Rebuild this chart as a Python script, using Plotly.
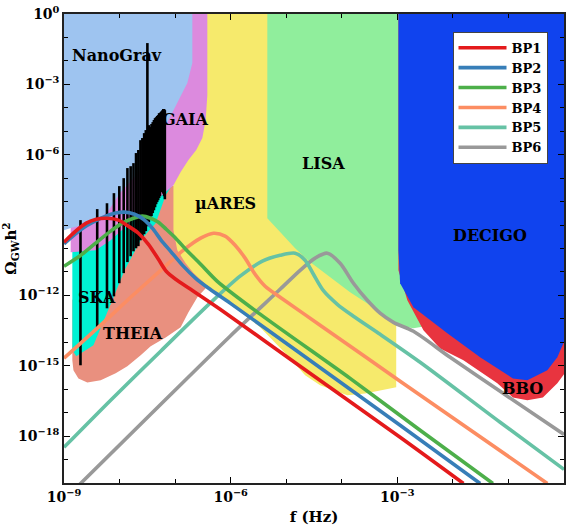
import numpy as np
import plotly.graph_objects as go

# ---------------------------------------------------------------------------
# Gravitational-wave spectra of the benchmark points
# (log10 of frequency in Hz, log10 of Omega_GW h^2)
# ---------------------------------------------------------------------------
bp_names = ["BP1", "BP2", "BP3", "BP4", "BP5", "BP6"]
bp_colors = ["#e41a1c", "#377eb8", "#4daf4a", "#fc8d62", "#66c2a5", "#999999"]

bp1_logf = [-9.00, -8.79, -8.60, -8.42, -8.22, -8.02, -7.84, -7.66, -7.48, -7.30,
            -7.16, -6.99, -6.72, -6.19, -4.75, -2.95, -1.81]
bp1_logomega = [-9.73, -9.26, -8.92, -8.75, -8.71, -8.79, -9.05, -9.35, -9.82, -10.46,
                -10.97, -11.31, -11.74, -12.59, -15.02, -18.05, -20.02]

bp2_logf = [-9.00, -8.70, -8.47, -8.25, -8.07, -7.91, -7.73, -7.57, -7.41, -7.25,
            -7.08, -6.87, -6.63, -6.37, -6.01, -4.75, -2.95, -1.51]
bp2_logomega = [-9.80, -9.20, -8.87, -8.62, -8.49, -8.45, -8.54, -8.75, -9.13, -9.65,
                -10.12, -10.71, -11.27, -11.74, -12.33, -14.47, -17.54, -20.02]

bp3_logf = [-9.00, -8.70, -8.43, -8.16, -7.95, -7.75, -7.59, -7.44, -7.30, -7.16,
            -6.99, -6.81, -6.54, -6.24, -5.47, -3.85, -2.59, -1.28]
bp3_logomega = [-10.76, -10.29, -9.77, -9.26, -8.92, -8.71, -8.62, -8.71, -8.88, -9.18,
                -9.56, -10.03, -10.67, -11.40, -12.80, -15.54, -17.75, -20.02]

bp4_logf = [-9.00, -8.34, -7.80, -7.26, -6.85, -6.54, -6.31, -6.10, -5.92, -5.74,
            -5.56, -5.38, -5.11, -4.39, -2.95, -0.30]
bp4_logomega = [-14.68, -13.27, -12.08, -10.93, -10.07, -9.56, -9.35, -9.47, -9.86, -10.41,
                -11.10, -11.61, -12.08, -13.27, -15.66, -20.02]

bp5_logf = [-9.00, -8.16, -7.26, -6.37, -5.83, -5.43, -5.11, -4.84, -4.66, -4.51,
            -4.33, -4.08, -3.79, -3.31, -2.59, -1.15, 0.00]
bp5_logomega = [-18.48, -16.47, -14.38, -12.33, -11.18, -10.54, -10.29, -10.20, -10.50, -11.10,
                -11.80, -12.38, -12.89, -13.66, -14.85, -17.41, -19.42]

bp6_logf = [-8.88, -7.44, -6.01, -5.11, -4.75, -4.48, -4.26, -4.03, -3.79, -3.54,
            -3.31, -3.07, -2.71, -2.05, -1.15, 0.00]
bp6_logomega = [-20.44, -17.07, -13.74, -11.74, -10.93, -10.41, -10.20, -10.63, -11.48, -12.21,
                -12.76, -13.15, -13.53, -14.64, -16.09, -17.93]

bp_logf = [bp1_logf, bp2_logf, bp3_logf, bp4_logf, bp5_logf, bp6_logf]
bp_logomega = [bp1_logomega, bp2_logomega, bp3_logomega, bp4_logomega, bp5_logomega, bp6_logomega]

# ---------------------------------------------------------------------------
# Pulsar-timing sensitivity: value range at each harmonic n / T_obs
# ---------------------------------------------------------------------------
pta_f_base = 1.98e-9          # 1 / T_obs  (T_obs ~ 16 yr)
pta_harmonic = list(range(1, 34))
pta_log_low = [-14.98, -13.44, -12.55, -12.04, -11.48, -11.05, -10.58, -10.33, -10.12, -9.99,
               -9.90, -9.65, -9.52, -9.39, -9.26, -9.05, -8.88, -8.75, -8.62, -8.49,
               -8.37, -8.24, -8.11, -8.02, -7.94, -7.85, -7.77, -7.60, -7.55, -7.58,
               -7.66, -7.77, -7.90]
pta_log_high = [-8.79, -8.32, -8.07, -7.64, -7.34, -7.00, -6.57, -6.49, -6.36, -5.93,
                -5.80, -5.38, -5.29, -5.08, -4.95, -1.24, -4.74, -4.82, -4.69, -4.61,
                -4.52, -4.44, -4.40, -4.35, -4.31, -4.23, -4.23, -4.18, -4.14, -4.10,
                -4.05, -4.05, -4.10]

# ---------------------------------------------------------------------------
# Experimental sensitivity regions (outline in log10 f, log10 Omega h^2)
# ---------------------------------------------------------------------------
theia_logf = [-8.85, -8.85, -8.83, -8.74, -8.58, -8.34, -8.07, -7.86, -7.62, -7.44,
              -7.17, -6.90, -6.76, -6.60, -6.45, -6.28, -6.28, -7.01, -7.26, -8.34]
theia_logomega = [-12.21, -14.77, -15.19, -15.54, -15.71, -15.62, -15.32, -15.02, -14.55, -14.17,
                  -13.79, -13.36, -12.72, -12.08, -11.69, -11.35, -7.94, -7.30, -7.51, -10.07]

mares_logf = [-7.03, -7.03, -6.96, -6.81, -6.67, -6.37, -6.01, -5.47, -4.93, -4.66,
              -4.39, -3.90, -3.58, -3.31, -3.02, -3.02]
mares_logomega = [0.05, -9.22, -10.07, -10.63, -11.05, -11.69, -12.33, -13.36, -14.68, -15.41,
                  -15.83, -16.26, -16.18, -16.05, -15.92, 0.05]

lisa_logf = [-5.34, -5.34, -5.11, -4.84, -4.57, -4.21, -3.85, -3.49, -3.02, -2.71,
             -2.50, -2.23, -1.87, -1.51]
lisa_logomega = [0.05, -8.71, -9.30, -9.99, -10.58, -11.22, -11.87, -12.42, -13.27, -13.40,
                 -13.32, -12.21, -10.07, 0.05]

ska_logf = [-8.85, -8.85, -8.78, -8.47, -8.13, -7.91, -7.62, -7.35, -7.17, -7.03, -6.98, -7.44]
ska_logomega = [-9.65, -14.34, -14.60, -14.13, -12.21, -10.93, -9.65, -8.92, -7.73, -7.21, -6.66, -6.66]

gaia_logf = [-8.88, -8.88, -8.43, -8.16, -7.80, -7.44, -7.17, -7.03, -6.90, -6.76,
             -6.62, -6.51, -6.45, -6.42, -6.42]
gaia_logomega = [0.05, -10.16, -10.07, -9.65, -8.88, -8.15, -7.60, -7.30, -6.74, -6.23,
                 -5.80, -5.29, -4.52, -3.46, 0.05]

nanograv_logf = [-9.05, -9.05, -8.88, -8.47, -8.22, -7.98, -7.53, -7.17, -7.03, -6.78, -6.69, -6.69]
nanograv_logomega = [0.05, -9.26, -9.13, -8.88, -8.45, -7.60, -6.44, -4.74, -4.10, -2.94, -2.09, 0.05]

bbo_logf = [-2.98, -2.98, -2.82, -2.53, -2.23, -1.81, -1.20, -0.92, -0.66, -0.38, -0.12, 0.05, 0.05]
bbo_logomega = [0.05, -10.93, -12.21, -13.49, -14.26, -14.77, -15.75, -16.35, -16.47, -16.35,
                -15.75, -15.20, 0.05]

decigo_logf = [-2.98, -2.98, -2.95, -2.71, -2.10, -1.51, -0.92, -0.66, -0.30, -0.12, 0.05, 0.05]
decigo_logomega = [0.05, -10.07, -11.48, -12.51, -13.61, -14.64, -15.54, -15.62, -15.19, -14.64,
                   -13.70, 0.05]

# drawing order: lowest layer first
regions = [
    (theia_logf, theia_logomega, "#e9907f"),
    (mares_logf, mares_logomega, "#f6ea6c"),
    (lisa_logf, lisa_logomega, "#90ee9c"),
    (ska_logf, ska_logomega, "#00f2d4"),
    (gaia_logf, gaia_logomega, "#dc8ade"),
    (nanograv_logf, nanograv_logomega, "#9ec4f0"),
    (bbo_logf, bbo_logomega, "#e8343f"),
    (decigo_logf, decigo_logomega, "#1043ee"),
]

# region labels: (text, log10 f, log10 Omega)
region_labels = [
    ("NanoGrav", -8.04, -1.79),
    ("GAIA", -6.81, -4.52),
    ("µARES", -6.10, -8.07),
    ("LISA", -4.33, -6.36),
    ("DECIGO", -1.33, -9.43),
    ("SKA", -8.40, -12.08),
    ("THEIA", -7.75, -13.62),
    ("BBO", -0.75, -15.96),
]

SERIF = "DejaVu Serif"

fig = go.Figure()

for lf, lo, col in regions:
    fig.add_trace(go.Scatter(
        x=10 ** np.array(lf), y=10 ** np.array(lo),
        mode="lines", fill="toself", fillcolor=col,
        line=dict(width=0, color=col),
        hoverinfo="skip", showlegend=False,
    ))

# pulsar-timing curve: one vertical stroke per harmonic
pta_x, pta_y = [], []
for n, lo, hi in zip(pta_harmonic, pta_log_low, pta_log_high):
    f = n * pta_f_base
    pta_x += [f, f, None]
    pta_y += [10 ** lo, 10 ** hi, None]
fig.add_trace(go.Scatter(
    x=pta_x, y=pta_y, mode="lines",
    line=dict(color="black", width=2.6),
    hoverinfo="skip", showlegend=False,
))

# benchmark spectra, BP1 drawn last (on top)
for i in reversed(range(len(bp_names))):
    fig.add_trace(go.Scatter(
        x=10 ** np.array(bp_logf[i]), y=10 ** np.array(bp_logomega[i]),
        mode="lines", name=bp_names[i], legendrank=i + 1,
        line=dict(color=bp_colors[i], width=3.6, shape="spline", smoothing=0.8),
    ))

for text, lx, ly in region_labels:
    fig.add_annotation(
        x=lx, y=ly, xref="x", yref="y", text=text, showarrow=False,
        font=dict(family=SERIF, size=16, color="black", weight="bold"),
    )

tick_font = dict(family=SERIF, size=14, color="black", weight="bold")
title_font = dict(family=SERIF, size=15, color="black", weight="bold")

x_major = [-9, -6, -3, 0]
x_major_text = ["10<sup>−9</sup>", "10<sup>−6</sup>", "10<sup>−3</sup>", "10<sup>0</sup>"]
# 10^-9 on the y axis sits behind the axis title, so it carries no label
y_major = [0, -3, -6, -12, -15, -18]
y_major_text = ["10<sup>0</sup>", "10<sup>−3</sup>", "10<sup>−6</sup>",
                "10<sup>−12</sup>", "10<sup>−15</sup>", "10<sup>−18</sup>"]

fig.update_layout(
    width=568, height=526,
    margin=dict(l=64, r=4, t=14, b=43),
    template="none",
    paper_bgcolor="white", plot_bgcolor="white",
    showlegend=True,
    legend=dict(
        x=0.967, y=0.962, xanchor="right", yanchor="top",
        bgcolor="white", bordercolor="#444", borderwidth=1,
        font=dict(family=SERIF, size=13, color="black", weight="bold"),
        traceorder="normal", itemwidth=48,
    ),
    xaxis=dict(
        type="log", range=[-9, 0],
        tickvals=[10.0 ** k for k in x_major],
        ticktext=x_major_text,
        ticks="inside", ticklen=6, tickwidth=1, tickcolor="black",
        minor=dict(tickvals=[10.0 ** k for k in range(-9, 1)], ticks="inside",
                   ticklen=4, tickwidth=1, tickcolor="black", showgrid=False),
        showline=True, linecolor="#222", linewidth=1.5, mirror="ticks",
        showgrid=False, zeroline=False, automargin=False,
        tickfont=tick_font,
        title=dict(text="f (Hz)", font=title_font, standoff=8),
    ),
    yaxis=dict(
        type="log", range=[-20, 0],
        tickvals=[10.0 ** k for k in y_major],
        ticktext=y_major_text,
        ticks="inside", ticklen=6, tickwidth=1, tickcolor="black",
        minor=dict(tickvals=[10.0 ** k for k in range(-20, 1)], ticks="inside",
                   ticklen=4, tickwidth=1, tickcolor="black", showgrid=False),
        showline=True, linecolor="#222", linewidth=1.5, mirror="ticks",
        showgrid=False, zeroline=False, automargin=False,
        tickfont=tick_font,
        title=dict(text="Ω<sub>GW</sub>h<sup>2</sup>", font=title_font, standoff=4),
    ),
)

fig.write_html("out.html", config={"displayModeBar": False})
